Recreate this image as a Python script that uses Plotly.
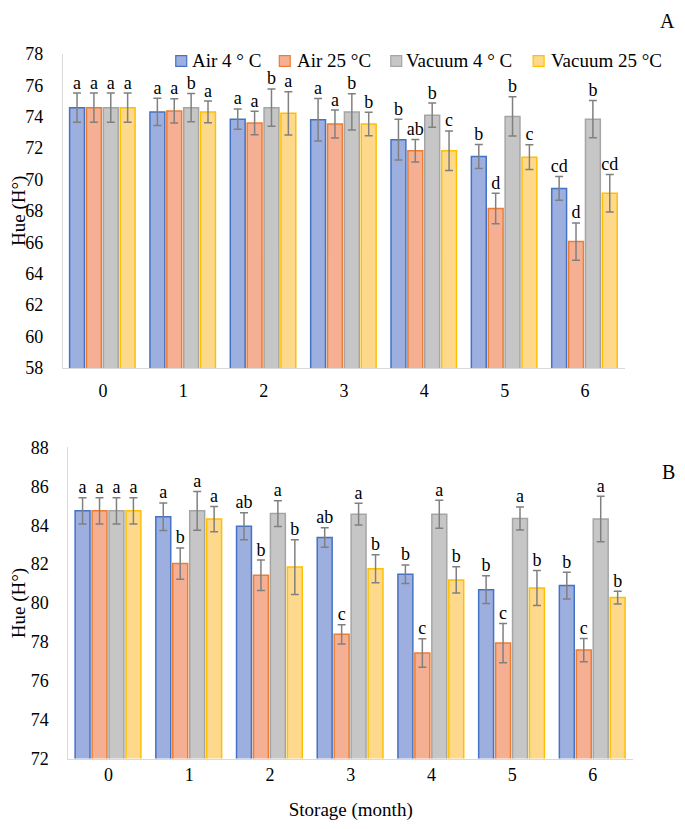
import plotly.graph_objects as go

# ---------------- data ----------------
months = [0, 1, 2, 3, 4, 5, 6]
series_names = ["Air 4 ° C", "Air 25 °C", "Vacuum 4 ° C", "Vacuum 25 °C"]

# Panel A
air4_A = [74.57, 74.30, 73.84, 73.80, 72.53, 71.46, 69.43]
air4_A_err = [0.93, 0.87, 0.65, 1.35, 1.30, 0.77, 0.76]
air4_A_lbl = ["a", "a", "a", "a", "b", "b", "cd"]
air25_A = [74.57, 74.36, 73.59, 73.53, 71.83, 68.15, 66.04]
air25_A_err = [0.93, 0.77, 0.75, 0.89, 0.72, 0.97, 1.19]
air25_A_lbl = ["a", "a", "a", "a", "ab", "d", "d"]
vac4_A = [74.57, 74.57, 74.57, 74.30, 74.09, 74.01, 73.84]
vac4_A_err = [0.93, 0.90, 1.19, 1.15, 0.77, 1.25, 1.18]
vac4_A_lbl = ["a", "b", "b", "b", "b", "b", "b"]
vac25_A = [74.57, 74.30, 74.21, 73.53, 71.83, 71.42, 69.12]
vac25_A_err = [0.93, 0.69, 1.38, 0.75, 1.26, 0.79, 1.20]
vac25_A_lbl = ["a", "a", "a", "b", "c", "c", "cd"]

# Panel B
air4_B = [84.74, 84.44, 83.95, 83.37, 81.48, 80.69, 80.90]
air4_B_err = [0.68, 0.71, 0.69, 0.50, 0.48, 0.71, 0.69]
air4_B_lbl = ["a", "a", "ab", "ab", "b", "b", "b"]
air25_B = [84.74, 82.03, 81.43, 78.39, 77.43, 77.94, 77.58]
air25_B_err = [0.68, 0.80, 0.78, 0.50, 0.73, 1.01, 0.60]
air25_B_lbl = ["a", "b", "b", "c", "c", "c", "c"]
vac4_B = [84.74, 84.74, 84.60, 84.57, 84.57, 84.35, 84.32]
vac4_B_err = [0.68, 1.00, 0.66, 0.56, 0.72, 0.59, 1.17]
vac4_B_lbl = ["a", "a", "a", "a", "a", "a", "a"]
vac25_B = [84.74, 84.32, 81.85, 81.76, 81.19, 80.78, 80.28]
vac25_B_err = [0.68, 0.65, 1.41, 0.72, 0.67, 0.90, 0.33]
vac25_B_lbl = ["a", "a", "b", "b", "b", "b", "b"]

# ---------------- style ----------------
fills = ["#9DAFDF", "#F5AF92", "#C6C6C6", "#FED98C"]
borders = ["#4472C4", "#ED7D31", "#A5A5A5", "#FFC000"]
err_color = "#808080"
FONT = "Liberation Serif"
bar_w = 0.185
bar_step = 0.21
first_off = -0.415

PAGE = 8                      # default body margin of the html page
FW, FH = 685 - 2 * PAGE, 829 - 2 * PAGE


def px(x):
    return (x - PAGE) / FW


def py(y):
    return 1 - (y - PAGE) / FH


panelA = [(air4_A, air4_A_err, air4_A_lbl), (air25_A, air25_A_err, air25_A_lbl),
          (vac4_A, vac4_A_err, vac4_A_lbl), (vac25_A, vac25_A_err, vac25_A_lbl)]
panelB = [(air4_B, air4_B_err, air4_B_lbl), (air25_B, air25_B_err, air25_B_lbl),
          (vac4_B, vac4_B_err, vac4_B_lbl), (vac25_B, vac25_B_err, vac25_B_lbl)]

fig = go.Figure()

for panel, (xa, ya) in [(panelA, ("x", "y")), (panelB, ("x2", "y2"))]:
    for i, (vals, errs, lbls) in enumerate(panel):
        off = first_off + i * bar_step
        fig.add_trace(go.Bar(
            x=months, y=vals, name=series_names[i], showlegend=False,
            width=bar_w, offset=off,
            marker=dict(color=fills[i], line=dict(color=borders[i], width=1.5)),
            error_y=dict(type="data", array=errs, visible=True, color=err_color,
                         thickness=1.5, width=4),
            xaxis=xa, yaxis=ya,
        ))
        fig.add_trace(go.Scatter(
            x=[m + off + bar_w / 2 for m in months],
            y=[v + e for v, e in zip(vals, errs)],
            text=lbls, mode="text", textposition="top center",
            textfont=dict(family=FONT, size=18, color="#000000"),
            showlegend=False, hoverinfo="skip", xaxis=xa, yaxis=ya,
        ))

axis_common = dict(showgrid=False, zeroline=False, showline=True, linecolor="#D9D9D9",
                   linewidth=1, ticks="", tickfont=dict(family=FONT, size=18, color="#000000"))

# legend drawn as squares + labels (reference pixel positions)
leg_sq_x = [179, 283, 395, 538]
leg_txt_x = [188, 293, 403, 548]
leg_y = 52
shapes = []
annotations = []
for i, name in enumerate(series_names):
    shapes.append(dict(type="rect", xref="paper", yref="paper",
                       x0=px(leg_sq_x[i] - 5.5), x1=px(leg_sq_x[i] + 5.5),
                       y0=py(leg_y + 5.5), y1=py(leg_y - 5.5),
                       fillcolor=fills[i], line=dict(color=borders[i], width=1.2)))
    annotations.append(dict(text=name, x=px(leg_txt_x[i]), y=py(leg_y), xref="paper",
                            yref="paper", xanchor="left", yanchor="middle", showarrow=False,
                            font=dict(family=FONT, size=19, color="#000000")))

annotations += [
    dict(text="A", x=1.0, y=py(11), xref="paper", yref="paper", xanchor="right",
         yanchor="middle", showarrow=False, font=dict(family=FONT, size=20)),
    dict(text="B", x=1.0, y=py(473), xref="paper", yref="paper", xanchor="right",
         yanchor="middle", showarrow=False, font=dict(family=FONT, size=20)),
]

fig.update_layout(
    width=FW, height=FH, barmode="overlay",
    margin=dict(l=0, r=0, t=0, b=0),
    paper_bgcolor="white", plot_bgcolor="white",
    font=dict(family=FONT, size=18, color="#000000"),
    xaxis=dict(domain=[px(60), px(625)], range=[-0.5, 6.5], tickvals=months,
               ticktext=[str(m) for m in months], anchor="y", ticklabelstandoff=7,
               **axis_common),
    yaxis=dict(domain=[py(366.7), py(44.7)], range=[58, 78], dtick=2,
               anchor="x", ticklabelstandoff=15,
               title=dict(text="Hue (H°)", font=dict(family=FONT, size=19), standoff=4),
               **axis_common),
    xaxis2=dict(domain=[px(65.5), px(633)], range=[-0.5, 6.5], tickvals=months,
                ticktext=[str(m) for m in months], anchor="y2", ticklabelstandoff=0,
                title=dict(text="Storage (month)", font=dict(family=FONT, size=19), standoff=18),
                **axis_common),
    yaxis2=dict(domain=[py(767.3), py(448.3)], range=[72, 88], dtick=2,
                anchor="x2", ticklabelstandoff=15,
                title=dict(text="Hue (H°)", font=dict(family=FONT, size=19), standoff=4),
                **axis_common),
    shapes=shapes,
    annotations=annotations,
)

fig.write_html("out.html")
